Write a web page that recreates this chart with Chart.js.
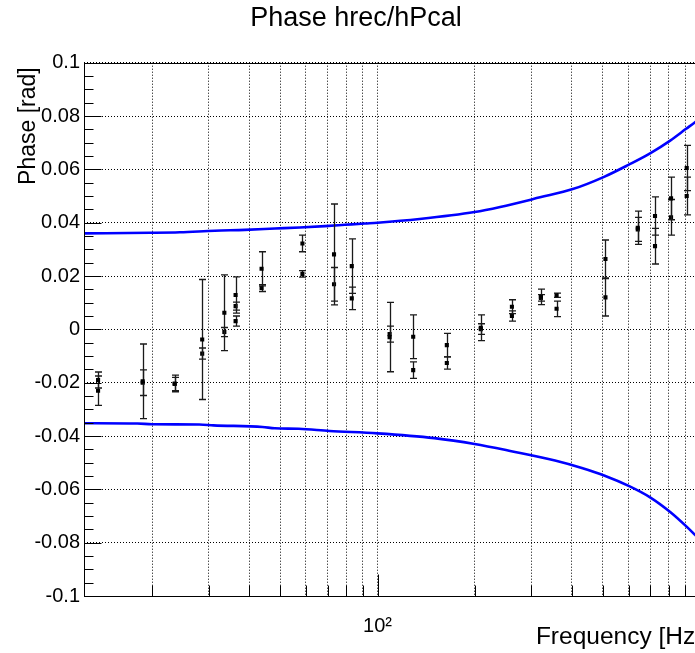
<!DOCTYPE html>
<html><head><meta charset="utf-8">
<script src="https://cdn.jsdelivr.net/npm/chart.js@4/dist/chart.umd.min.js"></script>
<style>html,body{margin:0;padding:0;overflow:hidden;background:#fff;width:695px;height:653px}</style>
</head><body>
<canvas id="c" width="712" height="653" style="display:block;width:712px;height:653px"></canvas>
<script>
// ---- data ----
const frequencies = [13.6, 18.7, 23.5, 28.6, 33.5, 36.3, 43.7, 58.5, 73.3, 83.2, 109, 129, 164, 209, 261, 321, 359, 509, 641, 725, 813, 909];
const phaseA = [-0.0190, -0.0195, -0.0203, -0.0038, 0.0062, 0.0129, 0.0227, 0.0322, 0.0281, 0.0237, -0.0029, -0.0028, -0.0059, 0.0006, 0.0085, 0.0122, 0.0128, 0.0264, 0.0381, 0.0425, 0.0491, 0.0605];
const errA   = [0.0030, 0.0140, 0.0031, 0.0225, 0.0142, 0.0068, 0.0064, 0.0031, 0.0189, 0.0102, 0.0130, 0.0082, 0.0044, 0.0048, 0.0026, 0.0029, 0.0008, 0.0071, 0.0062, 0.0072, 0.0080, 0.0085];
const phaseB = [-0.0230, -0.0200, -0.0205, -0.0091, -0.0010, 0.0031, 0.0155, 0.0208, 0.0169, 0.0116, -0.0018, -0.0153, -0.0126, 0.0001, 0.0050, 0.0118, 0.0077, 0.0120, 0.0375, 0.0312, 0.0420, 0.0500];
const errB   = [0.0055, 0.0048, 0.0025, 0.0021, 0.0017, 0.0019, 0.0013, 0.0012, 0.0063, 0.0042, 0.0030, 0.0031, 0.0023, 0.0020, 0.0019, 0.0012, 0.0029, 0.0070, 0.0045, 0.0067, 0.0067, 0.0071];
const extraFreq  = [36.3];
const extraPhase = [0.0087];
const extraErr   = [0.0015];
const upperFreq  = [12.3, 19.7, 24.4, 31.3, 38.8, 48.1, 57.4, 68.7, 79.2, 91.3, 100, 135, 200, 240, 319, 403, 504, 600, 700, 808, 905, 965, 1014];
const upperPhase = [0.0360, 0.0362, 0.0364, 0.0370, 0.0373, 0.0378, 0.0382, 0.0387, 0.0392, 0.0397, 0.0400, 0.0414, 0.0440, 0.0459, 0.0495, 0.0526, 0.0572, 0.0617, 0.0660, 0.0708, 0.0752, 0.0777, 0.0797];
const lowerFreq  = [12.3, 18, 20, 28, 31, 44, 48, 57, 71, 100, 150, 200, 260, 355, 430, 504, 603, 700, 808, 905, 965, 1014];
const lowerPhase = [-0.0352, -0.0353, -0.0356, -0.0357, -0.0360, -0.0366, -0.0371, -0.0373, -0.0381, -0.0390, -0.0408, -0.0430, -0.0457, -0.0492, -0.0520, -0.0548, -0.0588, -0.0630, -0.0685, -0.0738, -0.0771, -0.0797];
const xTickValues = [20, 30, 40, 50, 60, 70, 80, 90, 100, 200, 300, 400, 500, 600, 700, 800, 900];
const xTickLabels = {100: '10\u00B2'};
const yTickValues = [-0.1, -0.08, -0.06, -0.04, -0.02, 0, 0.02, 0.04, 0.06, 0.08, 0.1];

const FONT = '"Liberation Sans", Arial, Helvetica, sans-serif';
Chart.defaults.font.family = FONT;
Chart.defaults.color = '#000';

const pts = (xs, ys) => xs.map((x, i) => ({x, y: ys[i]}));

const errorBars = {
  id: 'errorBars',
  beforeDatasetDraw(chart, args) {
    const ds = chart.data.datasets[args.index];
    if (!ds.errors) return;
    const {ctx, scales: {x, y}} = chart;
    ctx.save();
    ctx.strokeStyle = '#1a1a1a';
    ctx.lineWidth = 1.3;
    ds.data.forEach((p, i) => {
      const e = ds.errors[i];
      const px = Math.round(x.getPixelForValue(p.x)) + 0.5;
      const yt = y.getPixelForValue(p.y + e);
      const yb = y.getPixelForValue(p.y - e);
      ctx.beginPath();
      ctx.moveTo(px, yt); ctx.lineTo(px, yb);
      ctx.moveTo(px - 3.5, yt); ctx.lineTo(px + 3.5, yt);
      ctx.moveTo(px - 3.5, yb); ctx.lineTo(px + 3.5, yb);
      ctx.stroke();
    });
    ctx.restore();
  }
};

const frame = {
  id: 'frame',
  afterDraw(chart) {
    const {ctx, chartArea: a, scales: {x, y}} = chart;
    ctx.save();
    ctx.strokeStyle = '#000';
    ctx.lineWidth = 1;
    const L = Math.round(a.left) + 0.5, R = Math.round(a.right) + 0.5;
    const T = Math.round(a.top) + 0.5, B = Math.round(a.bottom) + 0.5;
    ctx.strokeRect(L, T, R - L, B - T);
    ctx.beginPath();
    for (let i = 0; i < yTickValues.length; i++) {
      const v = yTickValues[i];
      const py = Math.round(y.getPixelForValue(v)) + 0.5;
      ctx.moveTo(L, py); ctx.lineTo(L + 17, py);
      if (i < yTickValues.length - 1) {
        const step = (yTickValues[i + 1] - v) / 4;
        for (let k = 1; k < 4; k++) {
          const pm = Math.round(y.getPixelForValue(v + k * step)) + 0.5;
          ctx.moveTo(L, pm); ctx.lineTo(L + 9, pm);
        }
      }
    }
    xTickValues.forEach(v => {
      const px = Math.round(x.getPixelForValue(v)) + 0.5;
      const len = v === 100 ? 22 : 11;
      ctx.moveTo(px, B); ctx.lineTo(px, B - len);
    });
    ctx.stroke();
    ctx.restore();
  }
};

new Chart(document.getElementById('c'), {
  type: 'scatter',
  data: {
    datasets: [
      { label: 'A', data: pts(frequencies, phaseA), errors: errA, pointStyle: 'rect', pointRadius: 2.9, backgroundColor: '#000', borderWidth: 0 },
      { label: 'B', data: pts(frequencies, phaseB), errors: errB, pointStyle: 'rect', pointRadius: 2.9, backgroundColor: '#000', borderWidth: 0 },
      { label: 'C', data: pts(extraFreq, extraPhase), errors: extraErr, pointStyle: 'rect', pointRadius: 2.9, backgroundColor: '#000', borderWidth: 0 },
      { label: 'upper', data: pts(upperFreq, upperPhase), showLine: true, pointRadius: 0, borderColor: '#0000ff', borderWidth: 2.6, cubicInterpolationMode: 'monotone' },
      { label: 'lower', data: pts(lowerFreq, lowerPhase), showLine: true, pointRadius: 0, borderColor: '#0000ff', borderWidth: 2.6, cubicInterpolationMode: 'monotone' }
    ]
  },
  options: {
    responsive: false,
    devicePixelRatio: 1,
    animation: false,
    events: [],
    layout: { padding: { top: 0, right: 10, left: 10, bottom: 0 } },
    plugins: {
      legend: { display: false },
      tooltip: { enabled: false },
      title: { display: true, text: 'Phase hrec/hPcal', color: '#000',
               font: { size: 27, weight: 'normal', family: FONT, lineHeight: 1.2 },
               padding: { top: 2, bottom: 28.3 } }
    },
    scales: {
      x: {
        type: 'logarithmic', min: 12.3, max: 1014,
        afterBuildTicks: s => { s.ticks = xTickValues.map(v => ({value: v})); },
        afterFit: s => { s.height = 57; },
        grid: { color: '#000', lineWidth: 1, drawTicks: false },
        border: { display: false, dash: [1, 2] },
        ticks: { autoSkip: false, maxRotation: 0, padding: 18, color: '#000',
                 font: { size: 20, family: FONT },
                 callback: v => xTickLabels[v] || '' },
        title: { display: true, text: 'Frequency [Hz]', align: 'end', color: '#000',
                 font: { size: 24.5, family: FONT }, padding: { top: 0, bottom: 1 } }
      },
      y: {
        type: 'linear', min: -0.1, max: 0.1,
        afterBuildTicks: s => { s.ticks = yTickValues.map(v => ({value: v})); },
        afterFit: s => { s.width = 74; },
        grid: { color: '#000', lineWidth: 1, drawTicks: false },
        border: { display: false, dash: [1, 2] },
        ticks: { padding: 4, color: '#000', font: { size: 20, family: FONT },
                 callback: v => String(+(+v).toFixed(3)) },
        title: { display: true, text: 'Phase [rad]\u2009', align: 'end', color: '#000',
                 font: { size: 23, family: FONT }, padding: { top: 5, bottom: 0 } }
      }
    }
  },
  plugins: [errorBars, frame]
});
</script>
</body></html>
